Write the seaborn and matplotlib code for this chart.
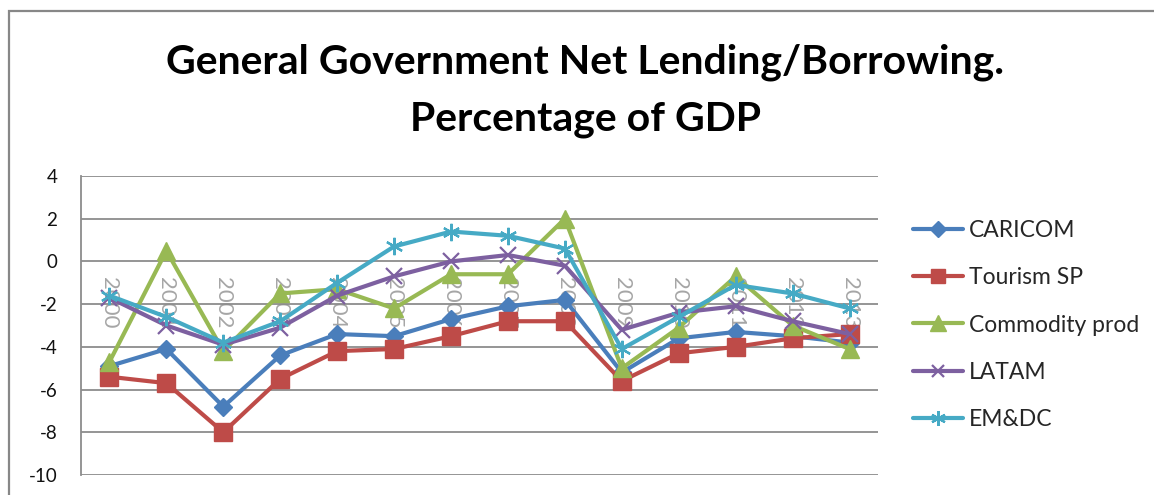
import matplotlib
matplotlib.use("Agg")
import matplotlib.pyplot as plt
import pandas as pd
import seaborn as sns
from matplotlib.patches import Rectangle

# Fiscal balance, % of GDP
years = [str(y) for y in range(2000, 2014)]
caricom = [-4.9, -4.1, -6.8, -4.4, -3.4, -3.5, -2.7, -2.1, -1.8, -5.2, -3.6, -3.3, -3.5, -3.8]
tourism_sp = [-5.4, -5.7, -8.0, -5.5, -4.2, -4.1, -3.5, -2.8, -2.8, -5.6, -4.3, -4.0, -3.6, -3.4]
commodity_prod = [-4.7, 0.5, -4.2, -1.5, -1.3, -2.2, -0.6, -0.6, 2.0, -5.0, -3.1, -0.7, -3.0, -4.1]
latam = [-1.7, -3.0, -3.9, -3.1, -1.6, -0.7, 0.0, 0.3, -0.2, -3.2, -2.4, -2.1, -2.8, -3.4]
em_dc = [-1.6, -2.6, -3.8, -2.8, -1.0, 0.7, 1.4, 1.2, 0.6, -4.1, -2.6, -1.1, -1.5, -2.2]

series_names = ["CARICOM", "Tourism SP", "Commodity prod", "LATAM", "EM&DC"]
series_values = [caricom, tourism_sp, commodity_prod, latam, em_dc]
y_ticks = [4, 2, 0, -2, -4, -6, -8, -10]

colors = ["#4A7EBB", "#BE4B48", "#98B954", "#7D60A0", "#46AAC5"]
marker_style = [
    dict(marker="D", markersize=9, markeredgewidth=1),
    dict(marker="s", markersize=12.5, markeredgewidth=1),
    dict(marker="^", markersize=13, markeredgewidth=1),
    dict(marker="x", markersize=11, markeredgewidth=1.6),
    dict(marker=(6, 2, 0), markersize=12.5, markeredgewidth=1.6),
]

df = pd.DataFrame({"year": years, **dict(zip(series_names, series_values))})
df["pos"] = range(len(years))

sns.set_theme(style="white")
plt.rcParams["font.family"] = ["Lato", "DejaVu Sans"]

fig = plt.figure(figsize=(11.54, 4.95), dpi=100)
ax = fig.add_axes([81 / 1154, 20 / 495, 797 / 1154, 299 / 495])

for name, color, mk in zip(series_names, colors, marker_style):
    sns.lineplot(data=df, x="pos", y=name, ax=ax, color=color, linewidth=3.0,
                 markeredgecolor=color, label=name, **mk)

ax.set_xlim(-0.5, len(years) - 0.5)
ax.set_ylim(-10, 4)

# category labels sit on the zero line, under the data
ax.spines["bottom"].set_position(("data", 0))
ax.spines["bottom"].set_visible(False)
ax.spines["top"].set_visible(False)
ax.spines["right"].set_visible(False)
ax.spines["left"].set_color("#8C8C8C")
ax.spines["left"].set_linewidth(1.3)

ax.set_yticks(y_ticks)
ax.set_yticklabels([str(t) for t in y_ticks])
ax.set_xticks(range(len(years)))
ax.set_xticklabels(years, rotation=-90, color="#A6A6A6", fontsize=16,
                   va="top", ha="center")
ax.set_xlabel("")
ax.set_ylabel("")
ax.tick_params(axis="x", length=0, pad=11)
ax.tick_params(axis="y", length=0, pad=17, labelsize=13.5, labelcolor="#111111")
ax.grid(axis="y", color="#8C8C8C", linewidth=1.3)
ax.grid(axis="x", visible=False)
ax.set_axisbelow(True)

leg = ax.legend(loc="center left", bbox_to_anchor=(913 / 1154, 170 / 495),
                bbox_transform=fig.transFigure, frameon=False, fontsize=16.5,
                handlelength=2.2, handletextpad=0.25, labelspacing=1.15,
                borderpad=0, borderaxespad=0, markerscale=0.85)

fig.text(585 / 1154, 1 - 62 / 495, "General Government Net Lending/Borrowing.",
         ha="center", va="center", fontsize=29.5, fontweight="bold", color="black")
fig.text(585 / 1154, 1 - 119 / 495, "Percentage of GDP",
         ha="center", va="center", fontsize=29.5, fontweight="bold", color="black")

# outer chart frame
fig.patches.append(Rectangle((9 / 1154, -0.1), 1.2, 1 - 11 / 495 + 0.1,
                             transform=fig.transFigure, fill=False,
                             edgecolor="#878787", linewidth=1.6))

fig.savefig("out.png", dpi=100)
